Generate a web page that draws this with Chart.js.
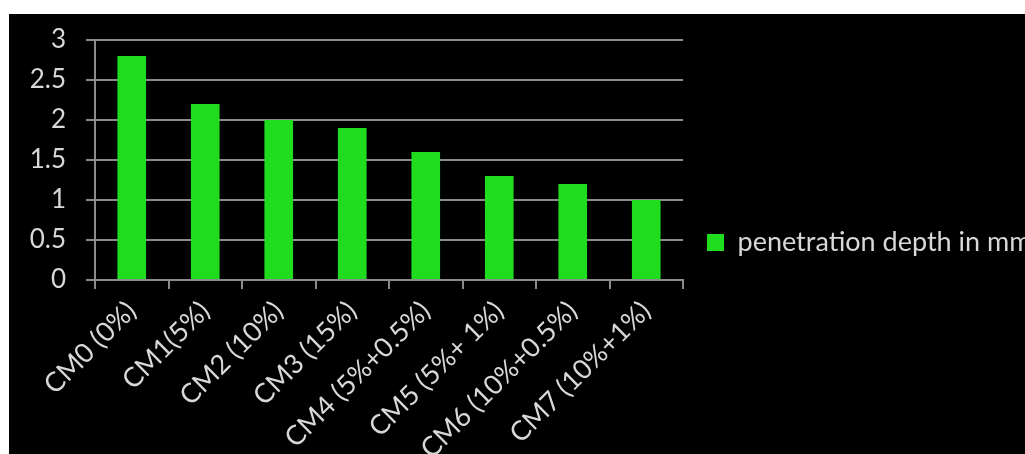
<!DOCTYPE html>
<html>
<head>
<meta charset="utf-8">
<title>Penetration depth</title>
<script src="https://cdn.jsdelivr.net/npm/chart.js@4.4.0/dist/chart.umd.min.js"></script>
<style>
  html, body {
    margin: 0;
    padding: 0;
    background: #ffffff;
    overflow: hidden;
    width: 1025px;
    height: 454px;
  }
  #chart-box {
    position: absolute;
    left: 9px;
    top: 14px;
    width: 1016px;
    height: 440px;
    background: #000000;
  }
</style>
</head>
<body>
<div id="chart-box">
  <canvas id="depthChart" width="1016" height="440"></canvas>
</div>
<script>
  // Mix labels and measured penetration depth (mm)
  const mixLabels = ['CM0 (0%)', 'CM1(5%)', 'CM2 (10%)', 'CM3 (15%)', 'CM4 (5%+0.5%)', 'CM5 (5%+ 1%)', 'CM6 (10%+0.5%)', 'CM7 (10%+1%)'];
  const depthValues = [2.8, 2.2, 2.0, 1.9, 1.6, 1.3, 1.2, 1.0];
  const yTicks = [0, 0.5, 1, 1.5, 2, 2.5, 3];

  const textColor = '#d8d8d8';
  const gridColor = '#8c8c8c';
  const barColor = '#1fdc1f';
  const fontFamily = 'Lato, "Open Sans", sans-serif';

  const depthData = {
    labels: mixLabels,
    datasets: [{
      label: 'penetration depth in mm',
      data: depthValues,
      backgroundColor: barColor,
      borderWidth: 0,
      barPercentage: 0.39,
      categoryPercentage: 1
    }]
  };

  const depthConfig = {
    type: 'bar',
    data: depthData,
    options: {
      responsive: false,
      animation: false,
      layout: {
        padding: { top: 17, bottom: 0, left: 0, right: 0 }
      },
      scales: {
        x: {
          grid: {
            drawOnChartArea: false,
            drawTicks: true,
            tickLength: 9,
            color: gridColor,
            lineWidth: 2
          },
          border: { color: gridColor, width: 2 },
          ticks: {
            color: textColor,
            font: { family: fontFamily, size: 27 },
            autoSkip: false,
            minRotation: 45,
            maxRotation: 45,
            padding: 6
          },
          afterFit: function (scale) {
            scale.height = 174;
          }
        },
        y: {
          min: yTicks[0],
          max: yTicks[yTicks.length - 1],
          afterBuildTicks: function (scale) {
            scale.ticks = yTicks.map(v => ({ value: v }));
          },
          grid: {
            color: gridColor,
            lineWidth: 2,
            tickLength: 9
          },
          border: { color: gridColor, width: 2 },
          ticks: {
            color: textColor,
            font: { family: fontFamily, size: 26 },
            padding: 20,
            callback: function (value) {
              return String(value);
            }
          },
          afterFit: function (scale) {
            // fixed axis width; the large label padding should not push the plot down
            scale.width = 86;
            scale.paddingTop = 26;
            scale.paddingBottom = 0;
          }
        }
      },
      plugins: {
        legend: {
          position: 'right',
          align: 'center',
          maxWidth: 342,
          labels: {
            color: textColor,
            font: { family: fontFamily, size: 27 },
            boxWidth: 17,
            boxHeight: 17,
            padding: 24
          }
        },
        tooltip: { enabled: false }
      }
    }
  };

  // Render chart
  window.onload = function () {
    const depthChart = new Chart(
      document.getElementById('depthChart'),
      depthConfig
    );
  };
</script>
</body>
</html>
